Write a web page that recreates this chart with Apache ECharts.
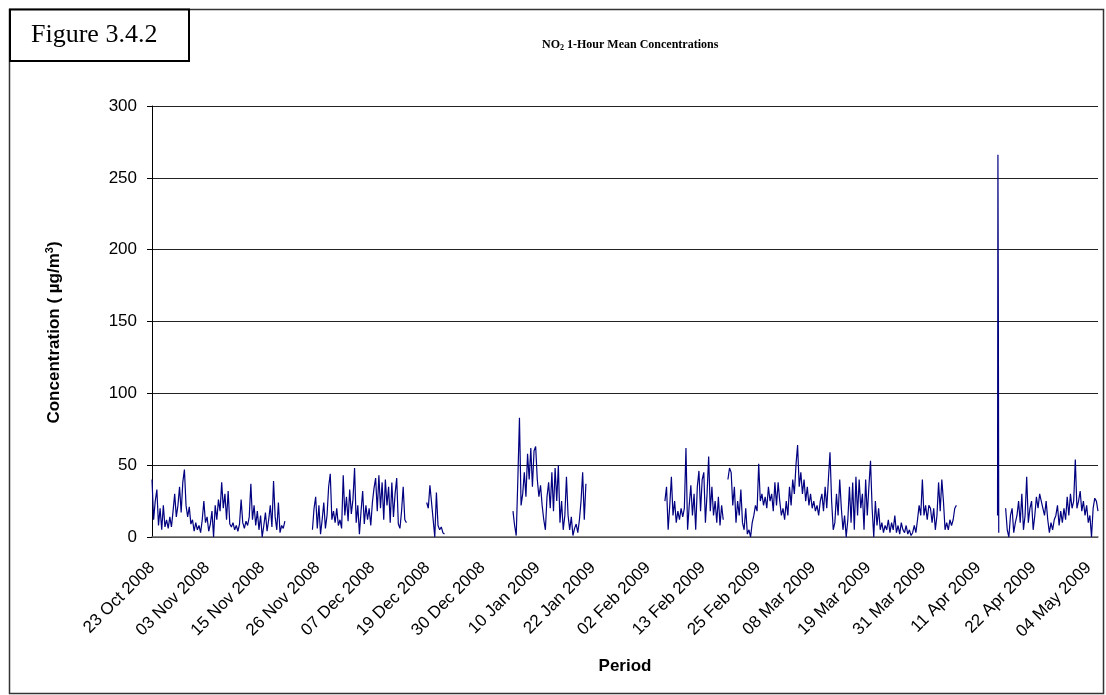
<!DOCTYPE html>
<html>
<head>
<meta charset="utf-8">
<script src="https://cdn.jsdelivr.net/npm/echarts@6/dist/echarts.min.js"></script>
<style>
  html, body { margin: 0; padding: 0; background: #fff; }
  #chart { width: 1106px; height: 695px; }
</style>
</head>
<body>
<div id="chart"></div>
<script>
// ---- Data (hourly NO2; hour 0 = 23 Oct 2008 12:00) ----
const xTickLabels = ['23 Oct 2008', '03 Nov 2008', '15 Nov 2008', '26 Nov 2008', '07 Dec 2008',
  '19 Dec 2008', '30 Dec 2008', '10 Jan 2009', '22 Jan 2009', '02 Feb 2009', '13 Feb 2009',
  '25 Feb 2009', '08 Mar 2009', '19 Mar 2009', '31 Mar 2009', '11 Apr 2009', '22 Apr 2009', '04 May 2009'];
const xTickHours = 272;
const xMaxHour = 4670;
const yTicks = [0, 50, 100, 150, 200, 250, 300];

const segStartHours = [0, 792, 1356, 1782, 2532, 2843, 4174, 4214];
const segStepHours  = [8, 8, 8, 8, 8, 8, 2, 8];

const segOctNov = [40, 12, 25, 33, 8, 20, 5, 22, 7, 12, 6, 14, 7, 18, 30, 14, 22, 35, 17, 38, 47, 22, 14, 21, 9, 12, 4, 10, 5, 8, 3, 12, 25, 10, 14, 4, 9, 18, 0, 22, 12, 26, 18, 38, 20, 30, 12, 32, 9, 7, 10, 5, 8, 4, 9, 26, 10, 6, 11, 8, 14, 37, 12, 22, 8, 18, 5, 15, 0, 8, 17, 4, 12, 22, 7, 39, 14, 5, 24, 3, 8, 6, 11];
const segNovDec = [5, 20, 28, 6, 22, 2, 12, 24, 6, 15, 35, 44, 12, 18, 10, 20, 8, 12, 6, 43, 15, 28, 11, 33, 16, 26, 48, 10, 22, 2, 18, 32, 9, 22, 12, 20, 8, 24, 34, 41, 18, 43, 20, 38, 12, 40, 22, 35, 10, 38, 14, 30, 41, 9, 6, 18, 35, 12, 10];
const segDec = [24, 20, 36, 35, 12, 0, 31, 8, 5, 7, 3, 2];
const segJan = [18, 8, 1, 40, 83, 22, 30, 45, 28, 58, 40, 62, 35, 60, 63, 40, 28, 36, 22, 12, 5, 28, 38, 20, 45, 18, 48, 25, 50, 10, 25, 5, 15, 42, 15, 5, 14, 1, 6, 9, 3, 12, 25, 45, 12, 37];
const segFeb = [25, 35, 5, 22, 42, 15, 25, 10, 18, 12, 20, 14, 20, 62, 5, 22, 36, 15, 30, 5, 35, 46, 18, 40, 45, 10, 30, 56, 18, 35, 15, 25, 10, 28, 8, 22, 12];
const segFebApr = [40, 48, 45, 22, 35, 10, 25, 15, 33, 10, 5, 20, 2, 5, 0, 10, 15, 22, 18, 51, 25, 30, 22, 28, 20, 35, 25, 30, 18, 38, 22, 38, 25, 15, 20, 12, 25, 15, 35, 22, 40, 30, 50, 64, 35, 45, 30, 40, 25, 35, 22, 30, 20, 25, 18, 22, 15, 25, 30, 18, 35, 20, 40, 59, 25, 5, 10, 30, 15, 40, 20, 5, 15, 0, 12, 35, 10, 38, 5, 42, 15, 40, 20, 30, 5, 40, 15, 35, 53, 20, 0, 25, 8, 20, 5, 10, 3, 8, 5, 12, 3, 10, 5, 15, 3, 8, 2, 10, 5, 3, 8, 2, 5, 1, 3, 8, 3, 12, 22, 15, 40, 15, 22, 12, 22, 20, 10, 20, 5, 15, 38, 18, 40, 25, 5, 10, 5, 12, 8, 12, 20, 22];
const segAprPeak = [15, 266, 158, 3];
const segAprMay = [20, 5, 0, 15, 20, 3, 10, 15, 25, 10, 30, 5, 15, 42, 10, 20, 25, 5, 15, 28, 20, 30, 25, 20, 15, 25, 12, 3, 10, 5, 12, 15, 22, 8, 18, 10, 20, 12, 28, 15, 30, 20, 25, 54, 20, 25, 32, 18, 25, 15, 22, 10, 15, 0, 20, 27, 25, 18];

const segments = [segOctNov, segNovDec, segDec, segJan, segFeb, segFebApr, segAprPeak, segAprMay];

// Build [hour, value] pairs, with a null between blocks so the line breaks at data gaps
const lineData = [];
segments.forEach((vals, k) => {
  if (k > 0) lineData.push([segStartHours[k] - 1, null]);
  vals.forEach((v, i) => lineData.push([segStartHours[k] + i * segStepHours[k], v]));
});

const chart = echarts.init(document.getElementById('chart'), null, { renderer: 'canvas' });

const option = {
  backgroundColor: '#ffffff',
  animation: false,
  title: {
    text: '{b|NO}{s|2}{b| 1-Hour Mean Concentrations}',
    left: 537,
    top: 32,
    textStyle: {
      rich: {
        b: { fontFamily: 'Liberation Serif', fontWeight: 'bold', fontSize: 12, color: '#000', lineHeight: 16 },
        s: { fontFamily: 'Liberation Serif', fontWeight: 'bold', fontSize: 8, color: '#000', lineHeight: 16, padding: [5, 0, 0, 0] }
      }
    }
  },
  grid: { left: 152, right: 8, top: 106, bottom: 158, containLabel: false },
  xAxis: {
    type: 'value',
    min: 0,
    max: xMaxHour,
    interval: xTickHours,
    name: 'Period',
    nameLocation: 'middle',
    nameGap: 121,
    nameTextStyle: { fontFamily: 'Liberation Sans', fontWeight: 'bold', fontSize: 17, color: '#000', verticalAlign: 'top' },
    axisLine: { show: true, onZero: false, lineStyle: { color: '#666', width: 1.5 } },
    axisTick: { show: false },
    splitLine: { show: false },
    axisLabel: {
      rotate: 45,
      margin: 28,
      fontFamily: 'Liberation Sans',
      fontSize: 17,
      color: '#000',
      showMaxLabel: false,
      formatter: function (v) {
        const idx = Math.round(v / xTickHours);
        return (Math.abs(v - idx * xTickHours) < 1e-6 && xTickLabels[idx]) ? xTickLabels[idx] : '';
      }
    }
  },
  yAxis: {
    type: 'value',
    min: yTicks[0],
    max: yTicks[yTicks.length - 1],
    interval: yTicks[1] - yTicks[0],
    name: '{a|Concentration ( µg/m}{p|3}{a|)}',
    nameLocation: 'middle',
    nameRotate: 90,
    nameGap: 88,
    nameTextStyle: {
      padding: [0, 22, 0, 0],
      rich: {
        a: { fontFamily: 'Liberation Sans', fontWeight: 'bold', fontSize: 17, color: '#000' },
        p: { fontFamily: 'Liberation Sans', fontWeight: 'bold', fontSize: 11, color: '#000', padding: [0, 0, 9, 0] }
      }
    },
    axisLine: { show: true, lineStyle: { color: '#000', width: 1 } },
    axisTick: { show: true, inside: false, length: 5, lineStyle: { color: '#000', width: 1 } },
    splitLine: { show: true, lineStyle: { color: '#222', width: 1 } },
    axisLabel: { margin: 15, fontFamily: 'Liberation Sans', fontSize: 17, color: '#000' }
  },
  series: [{
    type: 'line',
    data: lineData,
    showSymbol: false,
    symbol: 'none',
    connectNulls: false,
    lineStyle: { color: '#000080', width: 1.2 },
    itemStyle: { color: '#000080' },
    z: 3
  }],
  graphic: [
    {
      type: 'rect',
      z: 0,
      silent: true,
      shape: { x: 9.5, y: 9.5, width: 1094, height: 684 },
      style: { fill: 'none', stroke: '#333', lineWidth: 1.5 }
    },
    {
      type: 'group',
      z: 10,
      children: [
        {
          type: 'rect',
          shape: { x: 10, y: 9.5, width: 179, height: 51.5 },
          style: { fill: '#fff', stroke: '#000', lineWidth: 2 }
        },
        {
          type: 'text',
          style: {
            text: 'Figure 3.4.2',
            x: 31,
            y: 35,
            fontFamily: 'Liberation Serif',
            fontSize: 26,
            fill: '#000',
            verticalAlign: 'middle',
            align: 'left'
          }
        }
      ]
    }
  ]
};

chart.setOption(option);
</script>
</body>
</html>
